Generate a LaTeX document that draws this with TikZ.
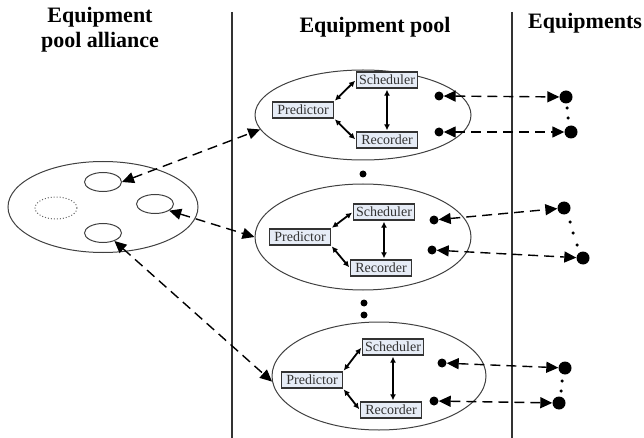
\documentclass[tikz,border=0pt]{standalone}
\usepackage{fontspec}
\setmainfont{Liberation Serif}
\usetikzlibrary{shapes.geometric,arrows.meta}
\begin{document}
\begin{tikzpicture}[x=1pt,y=-1pt,
  title/.style={font=\fontsize{22}{25}\selectfont\bfseries, align=center, inner sep=0},
  pool/.style={draw=black!75, line width=1pt, ellipse, inner sep=0},
  sub/.style={draw=black!75, line width=1pt, ellipse, inner sep=0, minimum width=37pt, minimum height=19pt},
  box/.style={draw=black!80, line width=1.3pt, fill={rgb,255:red,230;green,236;blue,246}, minimum width=61pt, minimum height=16pt, inner sep=0, font=\fontsize{14}{15}\selectfont, text=black!80},
  link/.style={line width=1.8pt, {Latex[length=6pt,width=6pt]}-{Latex[length=6pt,width=6pt]}, shorten <=1pt, shorten >=1pt},
  pdot/.style={circle, fill=black, inner sep=0, minimum size=9pt},
  edot/.style={circle, fill=black, inner sep=0, minimum size=13pt},
  dline/.style={dash pattern=on 10pt off 6pt, line width=1.4pt, {Triangle[length=12pt,width=11pt]}-{Triangle[length=12pt,width=11pt]}},
  sdot/.style={circle, fill=black, inner sep=0, minimum size=3.5pt},
  mdot/.style={circle, fill=black, inner sep=0, minimum size=7pt},
  sep/.style={draw=black!80, line width=1.3pt}
]
\useasboundingbox (0,0) rectangle (644,438);

% titles
\node[title] (t1) at (100,30) {Equipment\\pool alliance};
\node[title] (t2) at (375,27) {Equipment pool};
\node[title, anchor=west] (t3) at (528,23) {Equipments};

% separators
\coordinate (s1a) at (232,12); \coordinate (s1b) at (232,438);
\coordinate (s2a) at (512,12); \coordinate (s2b) at (512,438);
\draw[sep] (s1a) -- (s1b);
\draw[sep] (s2a) -- (s2b);

% alliance
\node[pool, minimum width=190pt, minimum height=91pt] (all) at (103,207) {};
\node[sub] (se1) at (103,182) {};
\node[sub] (se2) at (155,204) {};
\node[sub] (se3) at (103,233) {};
\node[ellipse, draw=black!60, dotted, line width=1pt, minimum width=42pt, minimum height=22pt, inner sep=0] (se0) at (56,208) {};

% pools
\node[pool, minimum width=216pt, minimum height=90pt] (p1) at (363,115) {};
\node[pool, minimum width=216pt, minimum height=106pt] (p2) at (363,237) {};
\node[pool, minimum width=214pt, minimum height=108pt] (p3) at (379,376) {};

% pool 1 boxes
\node[box] (s1) at (387,80) {Scheduler};
\node[box] (pr1) at (303,110) {Predictor};
\node[box] (r1) at (387,140) {Recorder};
\draw[link] (pr1.north east) -- (s1.west);
\draw[link] (pr1.south east) -- (r1.west);
\draw[link] (s1.south) -- (s1.south |- r1.north);

% pool 2 boxes
\node[box] (s2) at (384,212) {Scheduler};
\node[box] (pr2) at (300,237) {Predictor};
\node[box] (r2) at (381,268) {Recorder};
\draw[link] (pr2.north east) -- (s2.west);
\draw[link] (pr2.south east) -- (r2.west);
\draw[link] (s2.south) -- (s2.south |- r2.north);

% pool 3 boxes
\node[box] (s3) at (393,347) {Scheduler};
\node[box] (pr3) at (312,380) {Predictor};
\node[box] (r3) at (391,410) {Recorder};
\draw[link] (pr3.north east) -- (s3.west);
\draw[link] (pr3.south east) -- (r3.west);
\draw[link] (s3.south) -- (s3.south |- r3.north);

% dots between pools
\node[mdot] (m1) at (363,174) {};
\node[mdot] (m2) at (364,303) {};
\node[mdot] (m3) at (364,315) {};

% alliance to pools
\draw[dline] (se1.east) -- (p1.188);
\draw[dline] (se2.-25) -- (p2.west);
\draw[dline] (se3.-35) -- (p3.183);

% pool 1 to equipments
\node[pdot] (a1) at (439,96) {};
\node[pdot] (a2) at (439,132) {};
\node[edot] (e1) at (566,97) {};
\node[edot] (e2) at (571,132) {};
\draw[dline] (a1) -- (e1);
\draw[dline] (a2) -- (e2);
\node[sdot] (d1) at (567,108) {};
\node[sdot] (d2) at (568,118) {};

% pool 2 to equipments
\node[pdot] (b1) at (434,220) {};
\node[pdot] (b2) at (432,250) {};
\node[edot] (f1) at (564,208) {};
\node[edot] (f2) at (583,258) {};
\draw[dline] (b1) -- (f1);
\draw[dline] (b2) -- (f2);
\node[sdot] (d3) at (570,222) {};
\node[sdot] (d4) at (573,233) {};
\node[sdot] (d5) at (577,245) {};

% pool 3 to equipments
\node[pdot] (c1) at (442,363) {};
\node[pdot] (c2) at (434,401) {};
\node[edot] (g1) at (565,368) {};
\node[edot] (g2) at (559,403) {};
\draw[dline] (c1) -- (g1);
\draw[dline] (c2) -- (g2);
\node[sdot] (d6) at (562,381) {};
\node[sdot] (d7) at (561,391) {};
\end{tikzpicture}
\end{document}
